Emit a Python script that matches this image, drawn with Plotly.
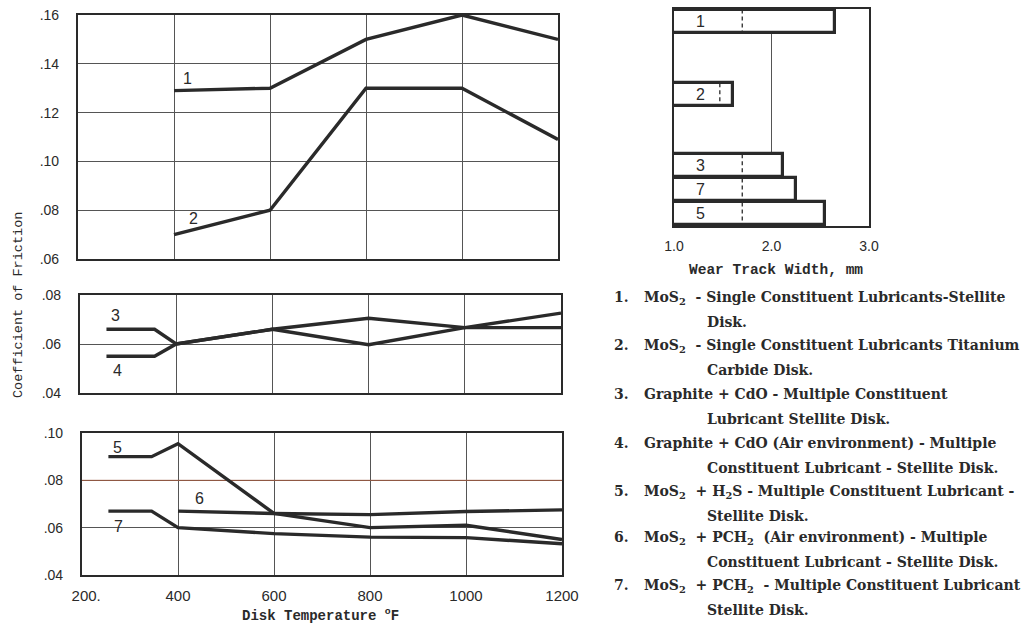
import plotly.graph_objects as go

# ---------------- data ----------------
temps_top = [400, 600, 800, 1000, 1200]
s1 = [0.129, 0.130, 0.150, 0.160, 0.150]
s2 = [0.070, 0.080, 0.130, 0.130, 0.109]

temps_mid = [255, 355, 400, 600, 800, 1000, 1200]
s3 = [0.066, 0.066, 0.060, 0.066, 0.0705, 0.0667, 0.0667]
s4 = [0.055, 0.055, 0.060, 0.066, 0.0597, 0.0667, 0.0726]

temps_s5 = [255, 345, 400, 600, 800, 1000, 1200]
s5 = [0.090, 0.090, 0.0955, 0.066, 0.060, 0.061, 0.055]
temps_s6 = [400, 600, 800, 1000, 1200]
s6 = [0.067, 0.066, 0.0655, 0.0668, 0.0675]
temps_s7 = [255, 345, 400, 600, 800, 1000, 1200]
s7 = [0.067, 0.067, 0.060, 0.0575, 0.056, 0.0558, 0.0532]

x_tickvals = [200, 400, 600, 800, 1000, 1200]
x_ticktext = ["  200.", "400", "600", "800", "1000", "1200"]
top_yticks = [0.06, 0.08, 0.10, 0.12, 0.14, 0.16]
top_yticktext = [".06", ".08", ".10", ".12", ".14", ".16"]
mid_yticks = [0.04, 0.06, 0.08]
mid_yticktext = [".04", ".06", ".08"]
bot_yticks = [0.04, 0.06, 0.08, 0.10]
bot_yticktext = [".04", ".06", ".08", ".10"]

bar_labels = ["1", "2", "3", "7", "5"]
wear_width = [2.65, 1.60, 2.12, 2.25, 2.55]
wear_dashed = [1.70, 1.47, 1.70, 1.70, 1.70]
wear_ticks = [1.0, 2.0, 3.0]
wear_ticktext = ["1.0", "2.0", "3.0"]

legend_numbers = ["1.", "2.", "3.", "4.", "5.", "6.", "7."]
legend_first = [
    "MoS<sub>2</sub>  - Single Constituent Lubricants-Stellite",
    "MoS<sub>2</sub>  - Single Constituent Lubricants Titanium",
    "Graphite + CdO - Multiple Constituent",
    "Graphite + CdO (Air environment) - Multiple",
    "MoS<sub>2</sub>  + H<sub>2</sub>S - Multiple Constituent Lubricant -",
    "MoS<sub>2</sub>  + PCH<sub>2</sub>  (Air environment) - Multiple",
    "MoS<sub>2</sub>  + PCH<sub>2</sub>  - Multiple Constituent Lubricant",
]
legend_second = [
    "Disk.",
    "Carbide Disk.",
    "Lubricant Stellite Disk.",
    "Constituent Lubricant - Stellite Disk.",
    "Stellite Disk.",
    "Constituent Lubricant - Stellite Disk.",
    "Stellite Disk.",
]

# ---------------- layout constants ----------------
W, H = 1024, 625
INK = "#2a2a2a"
LINE_W = 3.4
GRID = "#555555"

def px_x(p):
    return p / W

def px_y(p):
    return 1 - p / H

top_xdom = [px_x(78), px_x(558)]
mid_xdom = [px_x(80), px_x(561)]
bot_xdom = [px_x(82), px_x(562)]
top_dom = [px_y(259), px_y(15)]
mid_dom = [px_y(393), px_y(295)]
bot_dom = [px_y(575), px_y(433)]
bar_xdom = [px_x(674), px_x(869)]
bar_ydom = [px_y(226), px_y(9)]
bar_rows = [0.5, 3.55, 6.5, 7.5, 8.5]
bar_w = 0.95

tick_font = dict(family="Liberation Sans", size=14, color=INK)
xtick_font = dict(family="Liberation Sans", size=15, color=INK)

fig = go.Figure()

def line(x, y, xa, ya):
    fig.add_trace(go.Scatter(x=x, y=y, mode="lines", xaxis=xa, yaxis=ya,
                             line=dict(color=INK, width=LINE_W), showlegend=False,
                             hoverinfo="skip"))

line(temps_top, s1, "x", "y")
line(temps_top, s2, "x", "y")
line(temps_mid, s3, "x2", "y2")
line(temps_mid, s4, "x2", "y2")
line(temps_s5, s5, "x3", "y3")
line(temps_s6, s6, "x3", "y3")
line(temps_s7, s7, "x3", "y3")

# wear bars
fig.add_trace(go.Bar(
    x=wear_width, y=bar_rows, orientation="h", width=bar_w,
    marker=dict(color="white", line=dict(color=INK, width=3.2)),
    xaxis="x4", yaxis="y4", showlegend=False, hoverinfo="skip"))
for v, r in zip(wear_dashed, bar_rows):
    fig.add_trace(go.Scatter(x=[v, v], y=[r - bar_w / 2, r + bar_w / 2], mode="lines",
                             line=dict(color=INK, width=1.3, dash="4px,3px"),
                             xaxis="x4", yaxis="y4", showlegend=False, hoverinfo="skip"))

def xaxis(dom, show, anchor):
    return dict(domain=dom, range=[200, 1200], anchor=anchor, tickvals=x_tickvals,
                ticktext=x_ticktext, showticklabels=show, showgrid=True, gridcolor=GRID,
                gridwidth=1, showline=True, mirror=True, linecolor=INK, linewidth=2.2,
                zeroline=False, ticks="", tickfont=xtick_font, automargin=False,
                ticklabelstandoff=6, ticklabeloverflow="allow")

def yaxis(dom, rng, vals, text, anchor):
    return dict(domain=dom, range=rng, anchor=anchor, tickvals=vals, ticktext=text,
                showgrid=True, gridcolor=GRID, gridwidth=1, showline=True, mirror=True,
                linecolor=INK, linewidth=2.2, zeroline=False, ticks="", tickfont=tick_font,
                ticklabelstandoff=14, automargin=False, ticklabeloverflow="allow")

fig.update_layout(
    width=W, height=H, margin=dict(l=0, r=0, t=0, b=0, autoexpand=False),
    paper_bgcolor="white", plot_bgcolor="white",
    xaxis=xaxis(top_xdom, False, "y"),
    yaxis=yaxis(top_dom, [0.06, 0.16], top_yticks, top_yticktext, "x"),
    xaxis2=xaxis(mid_xdom, False, "y2"),
    yaxis2=yaxis(mid_dom, [0.04, 0.08], mid_yticks, mid_yticktext, "x2"),
    xaxis3=xaxis(bot_xdom, True, "y3"),
    yaxis3=yaxis(bot_dom, [0.04, 0.10], bot_yticks, bot_yticktext, "x3"),
    xaxis4=dict(domain=bar_xdom, range=[1.0, 3.0], anchor="y4", tickvals=wear_ticks,
                ticktext=wear_ticktext, showgrid=True, gridcolor=GRID, gridwidth=1,
                showline=True, mirror=True, linecolor=INK, linewidth=2, zeroline=False,
                ticks="", tickfont=tick_font, automargin=False, ticklabelstandoff=6),
    yaxis4=dict(domain=bar_ydom, range=[9.0, 0.0], anchor="x4", showticklabels=False,
                showgrid=False, showline=True, mirror=True, linecolor=INK, linewidth=2,
                zeroline=False, ticks="", automargin=False),
    bargap=0,
)

# brownish scan gridline in bottom panel
fig.add_shape(type="line", xref="x3", yref="y3", x0=200, x1=1200, y0=0.08, y1=0.08,
              line=dict(color="#9c5a40", width=1), layer="between")

label_font = dict(family="Liberation Sans", size=16, color=INK)
series_labels = [
    ("1", 429, 0.134, "x", "y"),
    ("2", 440, 0.0765, "x", "y"),
    ("3", 273, 0.0718, "x2", "y2"),
    ("4", 277, 0.049, "x2", "y2"),
    ("5", 273, 0.0938, "x3", "y3"),
    ("6", 444, 0.0723, "x3", "y3"),
    ("7", 275, 0.0604, "x3", "y3"),
]
for t, xv, yv, xr, yr in series_labels:
    fig.add_annotation(text=t, x=xv, y=yv, xref=xr, yref=yr, showarrow=False,
                       xanchor="center", yanchor="middle", font=label_font)

for t, r in zip(bar_labels, bar_rows):
    fig.add_annotation(text=t, x=1.27, y=r, xref="x4", yref="y4", showarrow=False,
                       xanchor="center", yanchor="middle", font=label_font)

mono = "Liberation Mono"
fig.add_annotation(text="Coefficient of Friction", x=px_x(18), y=px_y(305), xref="paper",
                   yref="paper", textangle=-90, showarrow=False, xanchor="center",
                   yanchor="middle", font=dict(family=mono, size=13.5, color=INK))
fig.add_annotation(text="Disk Temperature <sup>o</sup>F", x=px_x(320), y=px_y(626),
                   xref="paper", yref="paper", xanchor="center", yanchor="bottom",
                   showarrow=False,
                   font=dict(family=mono, size=14, color=INK, weight="bold"))
fig.add_annotation(text="<b>Wear Track Width, mm</b>", x=px_x(776), y=px_y(270),
                   xref="paper", yref="paper", xanchor="center", yanchor="middle",
                   showarrow=False, font=dict(family=mono, size=14.5, color=INK))

legend_font = dict(family="DejaVu Serif", size=14, color=INK, weight="bold")
first_y = [297, 345, 394, 443, 491, 537, 585]
TOP_OFF = 10
for i in range(7):
    fig.add_annotation(text=legend_numbers[i], x=px_x(612), y=px_y(first_y[i] - TOP_OFF),
                       xref="paper", yref="paper", xanchor="left", yanchor="top",
                       showarrow=False, font=legend_font)
    fig.add_annotation(text=legend_first[i], x=px_x(642), y=px_y(first_y[i] - TOP_OFF),
                       xref="paper", yref="paper", xanchor="left", yanchor="top",
                       showarrow=False, font=legend_font)
    fig.add_annotation(text=legend_second[i], x=px_x(705),
                       y=px_y(first_y[i] + 25 - TOP_OFF),
                       xref="paper", yref="paper", xanchor="left", yanchor="top",
                       showarrow=False, font=legend_font)

fig.write_html("out.html", config={"displayModeBar": False},
               post_script="document.body.style.margin='0';document.body.style.overflow='hidden';")
